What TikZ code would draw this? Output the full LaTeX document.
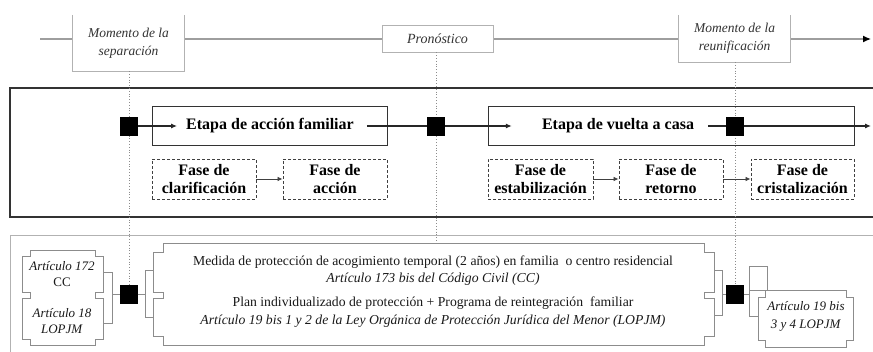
\documentclass[tikz,border=0pt]{standalone}
\usepackage{fontspec}
\setmainfont{Liberation Serif}
\usetikzlibrary{arrows.meta}
\newcommand\dplq[8]{\draw[plq] (#1+#6,#2) -- (#3-#6,#2) -- (#3-#6,#2+#7) -- (#3,#2+#7) -- (#3,#5-#8) -- (#3-#6,#5-#8) -- (#3-#6,#5+#8) -- (#3,#5+#8) -- (#3,#4-#7) -- (#3-#6,#4-#7) -- (#3-#6,#4) -- (#1+#6,#4) -- (#1+#6,#4-#7) -- (#1,#4-#7) -- (#1,#5+#8) -- (#1+#6,#5+#8) -- (#1+#6,#5-#8) -- (#1,#5-#8) -- (#1,#2+#7) -- (#1+#6,#2+#7) -- cycle;}
\newcommand\splq[6]{\draw[plq] (#1+#5,#2) -- (#3-#5,#2) -- (#3-#5,#2+#6) -- (#3,#2+#6) -- (#3,#4-#6) -- (#3-#5,#4-#6) -- (#3-#5,#4) -- (#1+#5,#4) -- (#1+#5,#4-#6) -- (#1,#4-#6) -- (#1,#2+#6) -- (#1+#5,#2+#6) -- cycle;}
\begin{document}
\begin{tikzpicture}[x=1pt,y=-1pt,
  tl/.style={draw=black!38, line width=1.3pt},
  topbox/.style={fill=white, minimum width=111pt, inner sep=0pt, align=center,
    font=\fontsize{13.5}{18}\selectfont\itshape, text=black!80},
  topline/.style={draw=black!30, line width=0.9pt},
  dotl/.style={draw=black!45, dotted, line width=0.8pt},
  sq/.style={fill=black, draw=black, minimum width=17pt, minimum height=18pt, inner sep=0pt},
  etbox/.style={draw=black!80, line width=1pt, inner sep=0pt, minimum height=39pt},
  ettext/.style={font=\fontsize{16}{18}\selectfont\bfseries, inner sep=0pt},
  fase/.style={draw=black!75, dash pattern=on 3pt off 2pt, line width=0.9pt, minimum height=40pt,
    inner sep=0pt, align=center, font=\fontsize{16}{18}\selectfont\bfseries},
  arr/.style={-{Latex[length=6pt,width=5pt]}, line width=1.1pt, draw=black!85},
  arrs/.style={-{Latex[length=5pt,width=4.5pt]}, line width=0.8pt, draw=black!75},
  ln/.style={line width=1.1pt, draw=black!85},
  plq/.style={draw=black!45, line width=0.9pt, fill=white},
  brk/.style={draw=black!45, line width=0.9pt},
  btxt/.style={inner sep=0pt, align=center, font=\fontsize{13}{16}\selectfont, text=black!90}]
\useasboundingbox (0,0) rectangle (873,352);
% timeline
\coordinate (tl0) at (40,39);
\coordinate (tl1) at (871,39);
\draw[tl, -{Latex[length=8pt,width=7pt,black]}] (tl0) -- (tl1);
\node[topbox, minimum height=56pt] (sep) at (128.5,43) {Momento de la\\separación};
\draw[topline] (sep.north west) -- (sep.south west) -- (sep.south east) -- (sep.north east);
\node[topbox, minimum height=47pt] (reu) at (734.5,38.5) {Momento de la\\reunificación};
\draw[topline] (reu.north west) -- (reu.south west) -- (reu.south east) -- (reu.north east);
\node[topbox, minimum height=27pt, draw=black!30, line width=0.9pt, font=\fontsize{14}{18}\selectfont\itshape] (pro) at (437.5,38.5) {Pronóstico};
% panels
\draw[draw=black!80, line width=1.7pt] (880,88) -- (10,88) -- (10,217) -- (880,217);
\draw[draw=black!30, line width=1pt] (880,236) -- (10,236) -- (10,360);
% bottom shapes
\dplq{22}{250}{103}{345}{295}{8}{6}{3}
\dplq{153}{243}{714}{345}{295}{10}{9}{3}
\splq{758}{290}{853}{347}{7}{7}
% squares
\node[sq] (sq1) at (129,126) {};
\node[sq] (sq2) at (436,126) {};
\node[sq] (sq3) at (735,126) {};
\node[sq] (sqb1) at (129,294) {};
\node[sq] (sqb2) at (735,294) {};
\coordinate (pend) at (436,243);
% dotted lines
\draw[dotl] (sep.south) ++(0.5,0) coordinate (sepd) -- (sqb1.north);
\draw[dotl] (pro.south) ++(-1.5,0) coordinate (prod) -- (pend);
\draw[dotl] (reu.south) ++(0.5,0) coordinate (reud) -- (sqb2.north);
% redraw squares on top
\node[sq] at (sq1) {};
\node[sq] at (sq2) {};
\node[sq] at (sq3) {};
\node[sq] at (sqb1) {};
\node[sq] at (sqb2) {};
% etapa boxes
\node[etbox, minimum width=235pt] (eb1) at (269.5,126.5) {};
\node[etbox, minimum width=366pt] (eb2) at (671,126.5) {};
\node[ettext] (et1) at (270,126) {Etapa de acción familiar};
\node[ettext] (et2) at (618,126) {Etapa de vuelta a casa};
\coordinate (mend) at (871,126);
\draw[arr] (sq1) -- ([xshift=-9pt]et1.west);
\draw[ln] ([xshift=13pt]et1.east) -- (sq2);
\draw[arr] (sq2) -- ([xshift=-30pt]et2.west);
\draw[ln] ([xshift=14pt]et2.east) -- (sq3);
\draw[arr] (sq3) -- (mend);
% fases
\node[fase, minimum width=104pt] (fc) at (204,179) {Fase de\\clarificación};
\node[fase, minimum width=104pt] (fa) at (335,179) {Fase de\\acción};
\node[fase, minimum width=105pt] (fe) at (540.5,179) {Fase de\\estabilización};
\node[fase, minimum width=104pt] (fr) at (671,179) {Fase de\\retorno};
\node[fase, minimum width=103pt] (fcr) at (802.5,179) {Fase de\\cristalización};
\draw[arrs] (fc) -- (fa);
\draw[arrs] (fe) -- (fr);
\draw[arrs] (fr) -- (fcr);
% brackets
\coordinate (lb) at (112,294);
\coordinate (mb) at (145,294);
\coordinate (rb) at (722,294);
\coordinate (rr) at (749,294);
\draw[brk] (103,272) -- (112,272) -- (112,323) -- (103,323);
\draw[brk] (lb) -- (sqb1);
\draw[brk] (sqb1) -- (mb);
\draw[brk] (153,270) -- (145,270) -- (145,317) -- (153,317);
\draw[brk] (714,270) -- (722,270) -- (722,315) -- (714,315);
\draw[brk] (rb) -- (sqb2);
\draw[brk] (sqb2) -- (rr);
\draw[brk] (749,266) rectangle (767,290);
\draw[brk] (749,290) -- (749,316) -- (758,316);
% bottom texts
\node[btxt] (a172) at (62,274.5) {\textit{Artículo 172}\\CC};
\node[btxt] (a18) at (62,321.5) {\textit{Artículo 18}\\\textit{LOPJM}};
\node[btxt, font=\fontsize{13.7}{17}\selectfont] (med1) at (433,270.5) {Medida de protección de acogimiento temporal (2 años) en familia\ \ o centro residencial\\\textit{Artículo 173 bis del Código Civil (CC)}};
\node[btxt, font=\fontsize{13.7}{18}\selectfont] (med2) at (433,312) {Plan individualizado de protección + Programa de reintegración\ \ familiar\\\textit{Artículo 19 bis 1 y 2 de la Ley Orgánica de Protección Jurídica del Menor (LOPJM)}};
\node[btxt, font=\fontsize{13}{18}\selectfont] (a19) at (806,316) {\textit{Artículo 19 bis}\\\textit{3 y 4 LOPJM}};
\end{tikzpicture}
\end{document}
